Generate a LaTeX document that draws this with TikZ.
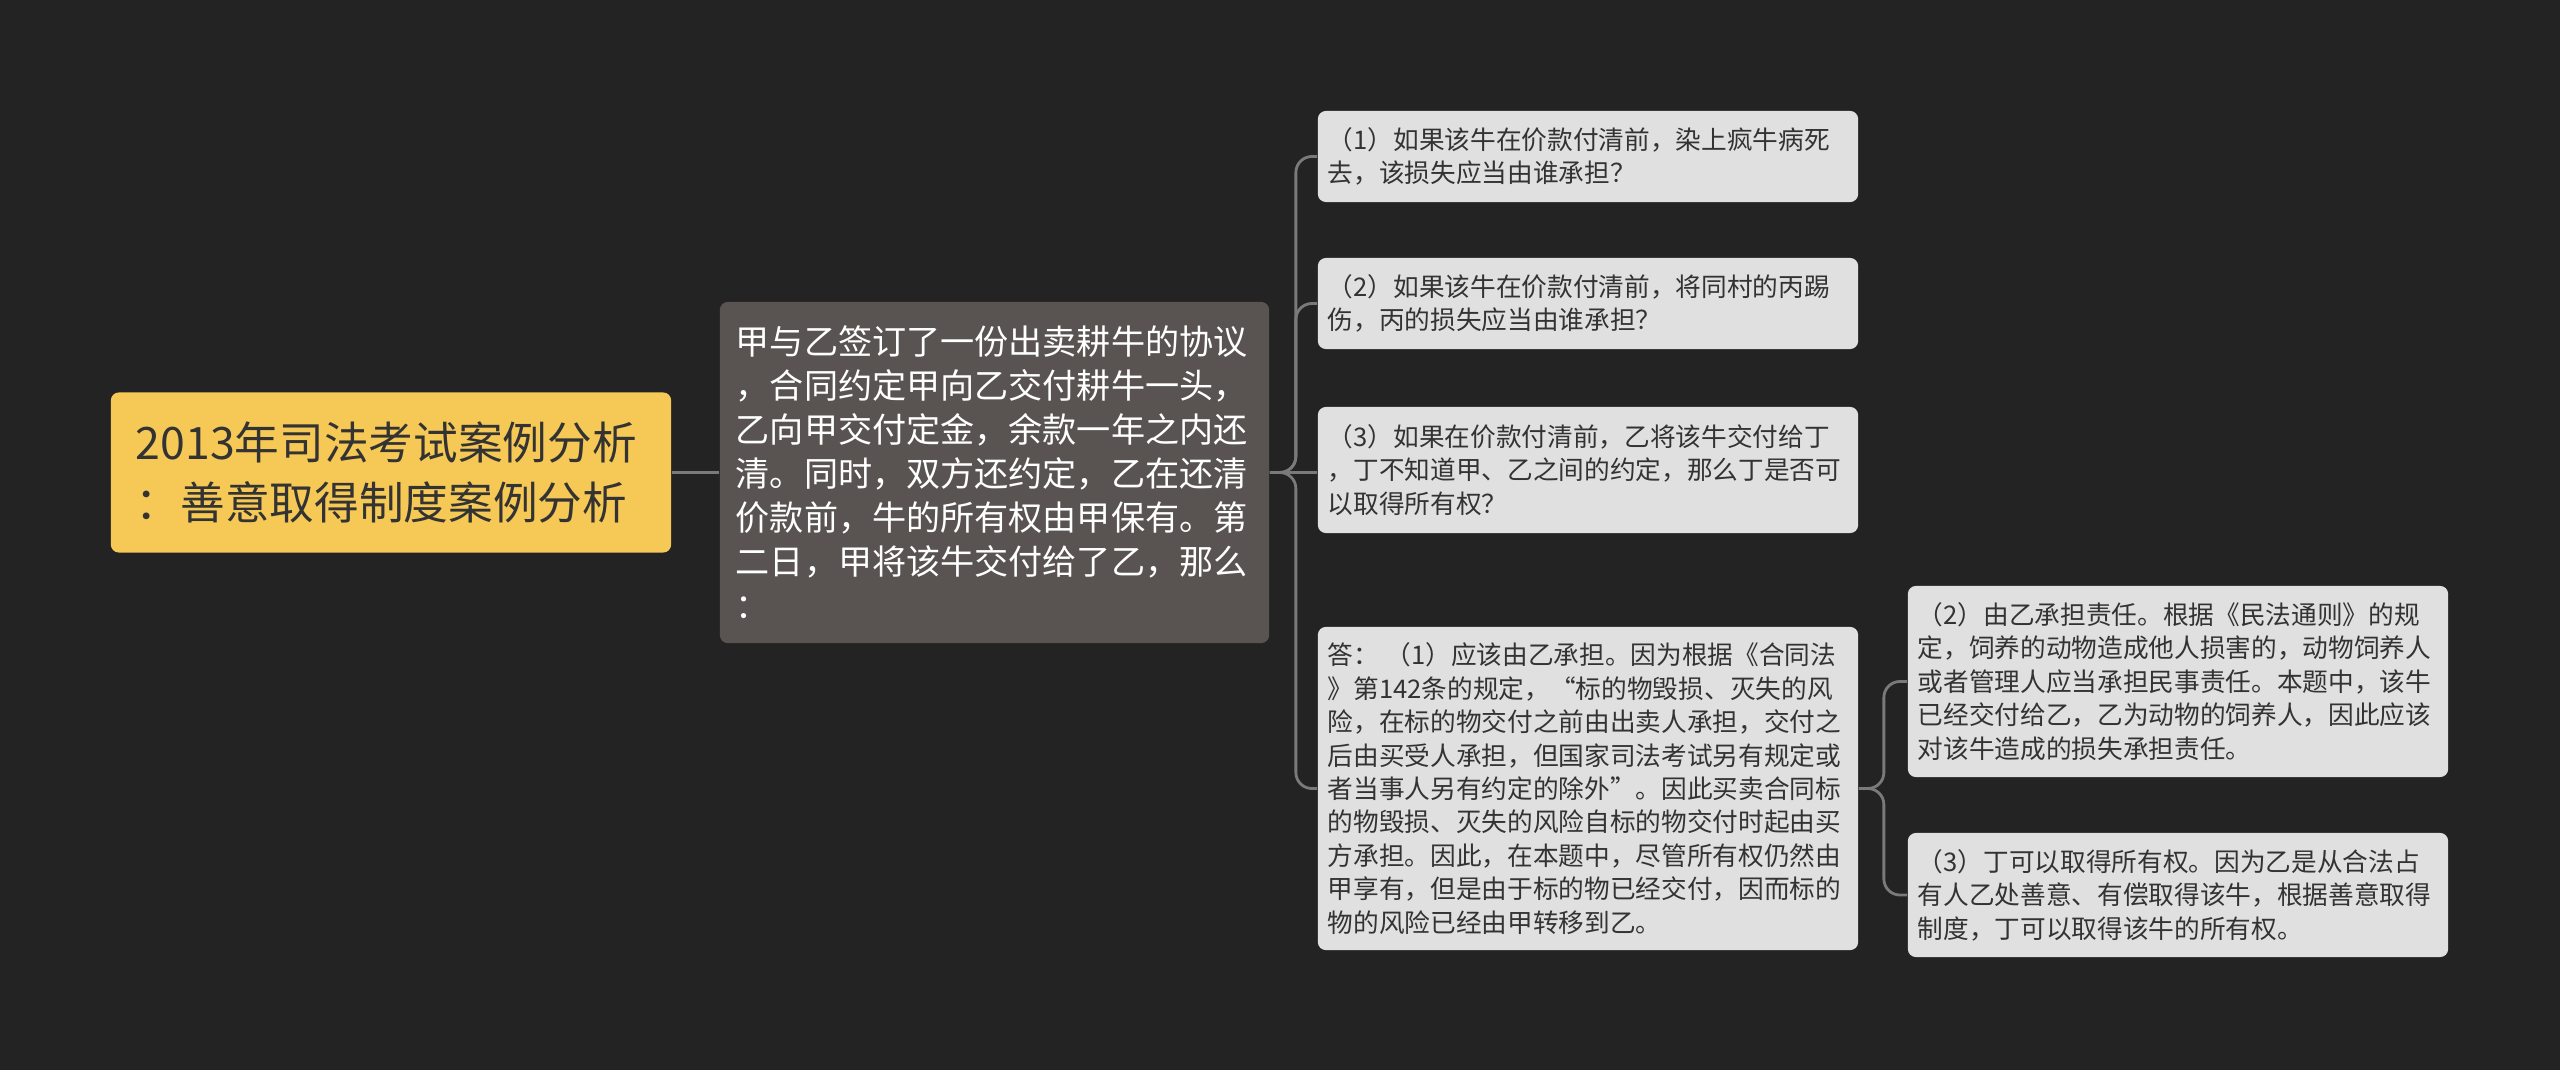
\documentclass[tikz,border=0pt]{standalone}
\usepackage{fontspec}
\setmainfont{Noto Sans CJK SC}
\definecolor{bgdark}{HTML}{232323}
\definecolor{rootfill}{HTML}{F6C956}
\definecolor{factfill}{HTML}{595451}
\definecolor{leaffill}{HTML}{E0E0E0}
\definecolor{inkdark}{HTML}{333333}
\definecolor{linkgray}{HTML}{7A7A7A}
\begin{document}
\begin{tikzpicture}[x=0.01cm,y=-0.01cm,
    rootbox/.style={rounded corners=0.08cm,fill=rootfill,text=inkdark,align=left,
        text width=5.1cm,inner xsep=0.25cm,minimum height=1.6cm,
        font=\fontsize{12.7}{17}\selectfont},
    factbox/.style={rounded corners=0.08cm,fill=factfill,text=white,align=left,
        text width=5.17cm,inner xsep=0.16cm,minimum height=3.41cm,
        font=\fontsize{9.7}{12.5}\selectfont},
    leafbox/.style={rounded corners=0.08cm,fill=leaffill,text=inkdark,align=left,
        text width=5.2cm,inner xsep=0.1cm,
        font=\fontsize{7.3}{9.5}\selectfont},
    link/.style={draw=linkgray,line width=0.8pt,rounded corners=0.16cm}]
    \fill[bgdark] (0,0) rectangle (2560,1070);
    \node [rootbox] (root) at (391,472.5) {2013年司法考试案例分析\\：善意取得制度案例分析};
    \node [factbox] (fact) at (994.5,472.5) {甲与乙签订了一份出卖耕牛的协议\\，合同约定甲向乙交付耕牛一头，\\乙向甲交付定金，余款一年之内还\\清。同时，双方还约定，乙在还清\\价款前，牛的所有权由甲保有。第\\二日，甲将该牛交付给了乙，那么\\：};
    \node [leafbox,minimum height=0.91cm] (q1) at (1588,156.5) {（1）如果该牛在价款付清前，染上疯牛病死\\去，该损失应当由谁承担？};
    \node [leafbox,minimum height=0.91cm] (q2) at (1588,303.5) {（2）如果该牛在价款付清前，将同村的丙踢\\伤，丙的损失应当由谁承担？};
    \node [leafbox,minimum height=1.26cm] (q3) at (1588,470) {（3）如果在价款付清前，乙将该牛交付给丁\\，丁不知道甲、乙之间的约定，那么丁是否可\\以取得所有权？};
    \node [leafbox,minimum height=3.23cm] (ans) at (1588,788.5) {答：\hspace{0.25em}（1）应该由乙承担。因为根据《合同法\\》第142条的规定，“标的物毁损、灭失的风\\险，在标的物交付之前由出卖人承担，交付之\\后由买受人承担，但国家司法考试另有规定或\\者当事人另有约定的除外”。因此买卖合同标\\的物毁损、灭失的风险自标的物交付时起由买\\方承担。因此，在本题中，尽管所有权仍然由\\甲享有，但是由于标的物已经交付，因而标的\\物的风险已经由甲转移到乙。};
    \node [leafbox,minimum height=1.91cm] (a2) at (2178,681.5) {（2）由乙承担责任。根据《民法通则》的规\\定，饲养的动物造成他人损害的，动物饲养人\\或者管理人应当承担民事责任。本题中，该牛\\已经交付给乙，乙为动物的饲养人，因此应该\\对该牛造成的损失承担责任。};
    \node [leafbox,minimum height=1.24cm] (a3) at (2178,895) {（3）丁可以取得所有权。因为乙是从合法占\\有人乙处善意、有偿取得该牛，根据善意取得\\制度，丁可以取得该牛的所有权。};
    \draw [link] (root.east) -- (fact.west);
    \draw [link] (fact.east) -- ++(26,0) |- (q1.west);
    \draw [link] (fact.east) -- ++(26,0) |- (q2.west);
    \draw [link] (fact.east) -- (fact.east -| q3.west);
    \draw [link] (fact.east) -- ++(26,0) |- (ans.west);
    \draw [link] (ans.east) -- ++(25,0) |- (a2.west);
    \draw [link] (ans.east) -- ++(25,0) |- (a3.west);
\end{tikzpicture}
\end{document}
